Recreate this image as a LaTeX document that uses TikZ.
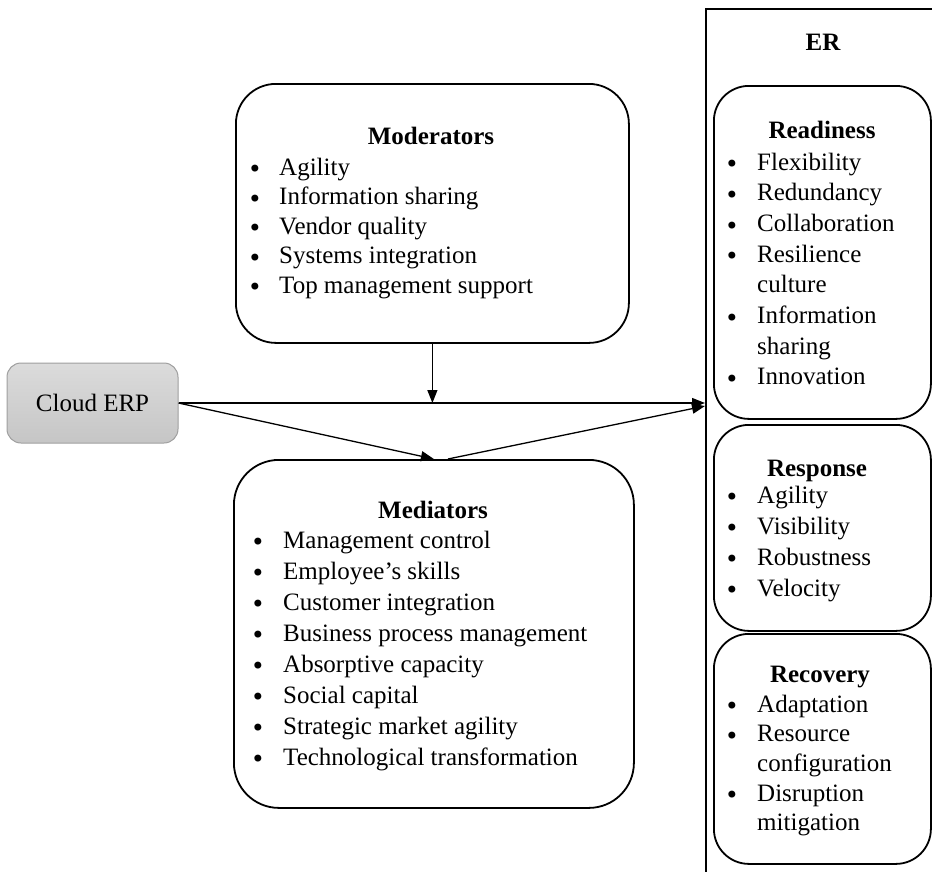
\documentclass[tikz,border=0pt]{standalone}
\usepackage{fontspec}
\setmainfont{Liberation Serif}
\newfontfamily\bulletfont{DejaVu Sans}
\usetikzlibrary{arrows.meta,calc}
\tikzset{
  bigbox/.style={draw, line width=1.8pt, rounded corners=#1, anchor=north west, inner sep=0pt},
  txt/.style={anchor=base west, inner sep=0pt, font=\fontsize{25}{30}\selectfont},
  bul/.style={anchor=center, inner sep=0pt, font=\bulletfont\fontsize{24}{26}\selectfont},
  ttl/.style={anchor=base, inner sep=0pt, font=\fontsize{25}{30}\selectfont\bfseries},
  conn/.style={line width=1.3pt, -{Triangle[length=13pt,width=10pt]}}
}
\newcommand\itemlist[6]{%
  \foreach \t/\b [count=\i] in {#6} {%
    \ifnum\b=1 \node[bul] (#1b\i) at (#2,{#4+(\i-1)*#5-3.5}) {•};\fi
    \node[txt] (#1t\i) at ({#2+#3},{#4+(\i-1)*#5}) {\t};
  }%
}
\begin{document}
\begin{tikzpicture}[x=1pt,y=-1pt]
\useasboundingbox (0,0) rectangle (932,871);
\clip (0,0) rectangle (932,871);

% Cloud ERP
\node[draw=gray!75, line width=1pt, rounded corners=14pt, top color=gray!28, bottom color=gray!45,
      minimum width=171pt, minimum height=80pt, inner sep=0pt,
      font=\fontsize{25}{30}\selectfont] (cloud) at (92.5,403) {Cloud ERP};

% Moderators
\node[bigbox=40pt, minimum width=393pt, minimum height=259pt] (mod) at (235,83) {};
\node[ttl] (modttl) at (431,144) {Moderators};
\itemlist{mod}{255}{24}{175}{29.5}{Agility/1,Information sharing/1,Vendor quality/1,Systems integration/1,Top management support/1}

% Mediators
\node[bigbox=45pt, minimum width=400pt, minimum height=348pt] (med) at (233,459) {};
\node[ttl] (medttl) at (433,518) {Mediators};
\itemlist{med}{258}{25}{548}{31}{Management control/1,Employee’s skills/1,Customer integration/1,Business process management/1,Absorptive capacity/1,Social capital/1,Strategic market agility/1,Technological transformation/1}

% ER column
\node[draw, line width=1.8pt, anchor=north west, inner sep=0pt, minimum width=260pt, minimum height=900pt] (er) at (705,8) {};
\node[ttl] (erttl) at (823,50) {ER};

\node[bigbox=35pt, minimum width=217pt, minimum height=333pt] (ready) at (713,85) {};
\node[ttl] (readyttl) at (822,138) {Readiness};
\itemlist{rd}{732}{25}{170}{30.7}{Flexibility/1,Redundancy/1,Collaboration/1,Resilience/1,culture/0,Information/1,sharing/0,Innovation/1}

\node[bigbox=35pt, minimum width=217pt, minimum height=206pt] (resp) at (713,424) {};
\node[ttl] (respttl) at (817,476) {Response};
\itemlist{rs}{732}{25}{503}{31}{Agility/1,Visibility/1,Robustness/1,Velocity/1}

\node[bigbox=35pt, minimum width=217pt, minimum height=230pt] (recov) at (713,633) {};
\node[ttl] (recovttl) at (820,682) {Recovery};
\itemlist{rc}{732}{25}{712}{29.7}{Adaptation/1,Resource/1,configuration/0,Disruption/1,mitigation/0}

% connectors
\coordinate (medout) at ($(med.north)+(14,0)$);
\coordinate (erin) at ($(er.west |- cloud.east)+(0,3)$);
\draw[conn] (mod.south) -- (mod.south |- cloud.east);
\draw[conn] (cloud.east) -- (cloud.east -| er.west);
\draw[conn] (cloud.east) -- (med.north);
\draw[conn] (medout) -- (erin);
\end{tikzpicture}
\end{document}
